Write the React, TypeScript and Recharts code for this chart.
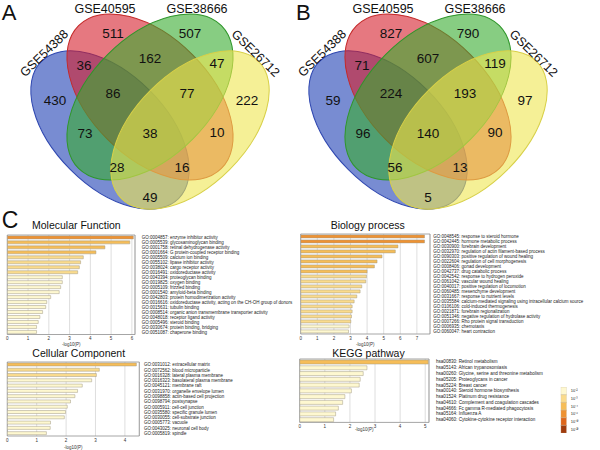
import React from 'react';
import {
  BarChart, Bar, XAxis, YAxis, CartesianGrid, Cell, ReferenceArea,
  ScatterChart, Scatter,
} from 'recharts';

const FONT = '"Liberation Sans", Arial, Helvetica, sans-serif';

// ---------- Venn data ----------
const setNames = ['GSE54388', 'GSE40595', 'GSE38666', 'GSE26712'];
const regionKeys = ['1', '2', '3', '4', '12', '23', '34', '14', '123', '234', '13', '24', '1234', '134', '124'];
const vennACounts = [430, 511, 507, 222, 36, 162, 47, 49, 86, 77, 73, 10, 38, 28, 16];
const vennBCounts = [59, 827, 790, 97, 71, 607, 119, 5, 224, 193, 96, 90, 140, 56, 13];

// ---------- Enrichment data ----------
const mfTerms = [
  'GO:0004857: enzyme inhibitor activity',
  'GO:0005539: glycosaminoglycan binding',
  'GO:0001758: retinal dehydrogenase activity',
  'GO:0001664: G protein-coupled receptor binding',
  'GO:0005509: calcium ion binding',
  'GO:0055102: lipase inhibitor activity',
  'GO:0038024: cargo receptor activity',
  'GO:0016491: oxidoreductase activity',
  'GO:0043394: proteoglycan binding',
  'GO:0019825: oxygen binding',
  'GO:0005109: frizzled binding',
  'GO:0001540: amyloid-beta binding',
  'GO:0042803: protein homodimerization activity',
  'GO:0016616: oxidoreductase activity, acting on the CH-OH group of donors',
  'GO:0015631: tubulin binding',
  'GO:0008514: organic anion transmembrane transporter activity',
  'GO:0048018: receptor ligand activity',
  'GO:0005496: steroid binding',
  'GO:0030674: protein binding, bridging',
  'GO:0051087: chaperone binding',
];
const mfValues = [6.07, 5.9, 4.7, 4.27, 3.66, 3.53, 3.47, 3.39, 2.65, 2.65, 2.57, 2.5, 2.09, 1.9, 1.85, 1.7, 1.57, 1.49, 1.41, 1.41];
const mfTicks = [0, 1, 2, 3, 4, 5, 6];

const bpTerms = [
  'GO:0048545: response to steroid hormone',
  'GO:0042445: hormone metabolic process',
  'GO:0030900: forebrain development',
  'GO:0032970: regulation of actin filament-based process',
  'GO:0090303: positive regulation of wound healing',
  'GO:0022604: regulation of cell morphogenesis',
  'GO:0008406: gonad development',
  'GO:0042737: drug catabolic process',
  'GO:0042542: response to hydrogen peroxide',
  'GO:0061042: vascular wound healing',
  'GO:0040017: positive regulation of locomotion',
  'GO:0060485: mesenchyme development',
  'GO:0031667: response to nutrient levels',
  'GO:0035584: calcium-mediated signaling using intracellular calcium source',
  'GO:0106106: cold-induced thermogenesis',
  'GO:0021871: forebrain regionalization',
  'GO:0051346: negative regulation of hydrolase activity',
  'GO:0007266: Rho protein signal transduction',
  'GO:0006935: chemotaxis',
  'GO:0060047: heart contraction',
];
const bpValues = [7.46, 7.46, 5.86, 5.7, 4.9, 4.6, 4.44, 4.0, 3.96, 3.92, 3.68, 3.58, 3.38, 3.22, 3.1, 3.1, 3.06, 3.02, 2.92, 2.88];
const bpTicks = [0, 1, 2, 3, 4, 5, 6, 7];

const ccTerms = [
  'GO:0031012: extracellular matrix',
  'GO:0072562: blood microparticle',
  'GO:0016328: lateral plasma membrane',
  'GO:0016323: basolateral plasma membrane',
  'GO:0045121: membrane raft',
  'GO:0031970: organelle envelope lumen',
  'GO:0098858: actin-based cell projection',
  'GO:0098794: postsynapse',
  'GO:0005911: cell-cell junction',
  'GO:0035580: specific granule lumen',
  'GO:0030055: cell-substrate junction',
  'GO:0005773: vacuole',
  'GO:0043025: neuronal cell body',
  'GO:0005819: spindle',
];
const ccValues = [4.39, 3.13, 3.03, 2.87, 2.55, 2.39, 2.3, 2.15, 2.04, 1.98, 1.94, 1.47, 1.46, 1.33];
const ccTicks = [0, 1, 2, 3, 4];

const keggTerms = [
  'hsa00830: Retinol metabolism',
  'hsa05143: African trypanosomiasis',
  'hsa00260: Glycine, serine and threonine metabolism',
  'hsa05205: Proteoglycans in cancer',
  'hsa05224: Breast cancer',
  'hsa00140: Steroid hormone biosynthesis',
  'hsa01524: Platinum drug resistance',
  'hsa04610: Complement and coagulation cascades',
  'hsa04666: Fc gamma R-mediated phagocytosis',
  'hsa05164: Influenza A',
  'hsa04060: Cytokine-cytokine receptor interaction',
];
const keggValues = [5.12, 2.68, 2.53, 2.41, 2.37, 2.06, 1.8, 1.71, 1.54, 1.43, 1.35];
const keggTicks = [0, 1, 2, 3, 4, 5];

const legendLabels = ['10⁻²', '10⁻³', '10⁻⁴', '10⁻⁶', '10⁻¹⁰', '10⁻²⁰'];
const legendColors = ['#fef8d0', '#fadb8d', '#f6bd58', '#ee9233', '#de661c', '#a03c0e'];

// ---------- Layout (geometry / style) ----------
const VC = 150;
const ellipseLayout = [
  { dx: -40, y: 130, rx: 97, ry: 56, rot: 45, fill: '#1e3fb4', stroke: '#2f47b0' },
  { dx: 0, y: 97, rx: 101, ry: 60, rot: 45, fill: '#d51e2b', stroke: '#c42a2a' },
  { dx: 0, y: 97, rx: 101, ry: 60, rot: -45, fill: '#37ac2f', stroke: '#2f962a' },
  { dx: 40, y: 130, rx: 97, ry: 56, rot: -45, fill: '#eee650', stroke: '#d8d048' },
];
const regionAnchors: Record<string, [number, number]> = {
  '1': [-95, 100], '2': [-37, 33], '3': [40, 33], '4': [97, 100],
  '12': [-66, 65], '23': [0, 58], '34': [67, 63], '14': [0, 197],
  '123': [-37, 93], '234': [37, 93], '13': [-65, 133], '24': [67, 132],
  '1234': [0, 133], '134': [-33, 167], '124': [32, 167],
};
const nameAnchors: [number, number, number][] = [
  [-106, 53, -44], [-45, 8.5, 0], [47, 8.5, 0], [106, 53, 44],
];

function binColor(v: number) {
  if (v >= 6) return legendColors[3];
  if (v >= 4) return legendColors[2];
  if (v >= 3) return legendColors[1];
  return legendColors[0];
}

const EllipseShape = (p: any) => {
  const d = p.payload;
  return (
    <ellipse cx={p.cx} cy={p.cy} rx={d.rx} ry={d.ry}
      transform={`rotate(${d.rot} ${p.cx} ${p.cy})`}
      fill={d.fill} fillOpacity={0.6} stroke={d.stroke} strokeWidth={1} />
  );
};
const CountShape = (p: any) => (
  <text x={p.cx} y={p.cy} dy="0.36em" textAnchor="middle" fontSize={13.5}
    fontFamily={FONT} fill="#111">{p.payload.label}</text>
);
const NameShape = (p: any) => (
  <text x={p.cx} y={p.cy} dy="0.36em" textAnchor="middle" fontSize={12.5}
    fontFamily={FONT} fill="#111"
    transform={`rotate(${p.payload.rot} ${p.cx} ${p.cy})`}>{p.payload.label}</text>
);

function Venn({ counts, left }: { counts: number[]; left: number }) {
  const ellipses = ellipseLayout.map((e) => ({ ...e, x: VC + e.dx }));
  const nums = regionKeys.map((k, i) => ({
    x: VC + regionAnchors[k][0], y: regionAnchors[k][1], label: String(counts[i]),
  }));
  const names = setNames.map((n, i) => ({
    x: VC + nameAnchors[i][0], y: nameAnchors[i][1], rot: nameAnchors[i][2], label: n,
  }));
  return (
    <div style={{ position: 'absolute', left, top: 0 }}>
      <ScatterChart width={300} height={215} margin={{ top: 0, right: 0, bottom: 0, left: 0 }}>
        <XAxis type="number" dataKey="x" domain={[0, 300]} allowDataOverflow hide />
        <YAxis type="number" dataKey="y" domain={[0, 215]} allowDataOverflow reversed hide />
        <Scatter data={ellipses} shape={EllipseShape} isAnimationActive={false} />
        <Scatter data={nums} shape={CountShape} isAnimationActive={false} />
        <Scatter data={names} shape={NameShape} isAnimationActive={false} />
      </ScatterChart>
    </div>
  );
}

const makeTick = (fs: number) => (p: any) => (
  <text x={p.x} y={p.y} dy="0.35em" textAnchor="start" fontSize={fs}
    fontFamily={FONT} fill="#222">{p.payload.value}</text>
);

type GoProps = {
  terms: string[]; values: number[]; ticks: number[]; max: number;
  left: number; top: number; width: number; height: number;
  plotLeft: number; yW: number; gap: number; axisH: number; tickOff: number; labelOff: number; fs: number;
};

function GoChart(p: GoProps) {
  const rows = p.terms.map((t, i) => ({ name: t, v: p.values[i] }));
  return (
    <div style={{ position: 'absolute', left: p.left, top: p.top }}>
      <BarChart layout="vertical" width={p.width} height={p.height} data={rows}
        margin={{ top: 5, right: 0, bottom: 0, left: p.plotLeft }} barCategoryGap="18%">
        <CartesianGrid horizontal={false} stroke="#d6d6d6" strokeWidth={0.8} />
        <XAxis type="number" domain={[0, p.max]} ticks={p.ticks} allowDataOverflow
          height={p.axisH} axisLine={false} tickLine={false} tickSize={1} tickMargin={p.tickOff}
          tick={{ fontSize: 4.5, fill: '#333', fontFamily: FONT }}
          label={{ value: '-log10(P)', position: 'insideBottom', offset: p.labelOff, fontSize: 4.5, fill: '#333', fontFamily: FONT }} />
        <YAxis type="category" dataKey="name" orientation="right" width={p.yW}
          axisLine={false} tickLine={false} tickSize={0} tickMargin={p.gap} interval={0}
          tick={makeTick(p.fs)} />
        <Bar dataKey="v" isAnimationActive={false} stroke="#a39b85" strokeWidth={0.5}>
          {rows.map((r, i) => <Cell key={i} fill={binColor(r.v)} />)}
        </Bar>
        <ReferenceArea x1={0} x2={p.max} fill="none" stroke="#8f8f8f" strokeWidth={0.8} ifOverflow="visible" />
      </BarChart>
    </div>
  );
}

function LegendScale() {
  const rows = legendLabels.map((l) => ({ name: l, v: 1 }));
  return (
    <div style={{ position: 'absolute', left: 555, top: 386.7 }}>
      <BarChart layout="vertical" width={40} height={46} data={rows}
        margin={{ top: 0, right: 0, bottom: 0, left: 5.7 }} barCategoryGap={0}>
        <XAxis type="number" domain={[0, 1]} hide allowDataOverflow />
        <YAxis type="category" dataKey="name" orientation="right" width={28.3}
          axisLine={false} tickLine={false} tickSize={0} tickMargin={4} interval={0}
          tick={makeTick(4)} />
        <Bar dataKey="v" isAnimationActive={false} stroke="#c9bfa6" strokeWidth={0.5}>
          {rows.map((r, i) => <Cell key={i} fill={legendColors[i]} />)}
        </Bar>
      </BarChart>
    </div>
  );
}

const txt = (s: string, left: number, top: number, size: number) => (
  <div style={{ position: 'absolute', left, top, fontSize: size, lineHeight: 1, fontFamily: FONT, color: '#111', whiteSpace: 'nowrap' }}>{s}</div>
);

export default function App() {
  return (
    <div style={{ position: 'absolute', left: 0, top: 0, width: 600, height: 450, background: '#fff', overflow: 'hidden' }}>
      <Venn counts={vennACounts} left={0} />
      <Venn counts={vennBCounts} left={277.7} />
      {txt('A', 1.7, 2.1, 22)}
      {txt('B', 296, 2.1, 22)}
      {txt('C', 1.7, 208.8, 23)}
      {txt('Molecular Function', 32, 220.4, 10.5)}
      {txt('Biology process', 330.7, 220.4, 10.5)}
      {txt('Cellular Component', 32.3, 347.8, 10.5)}
      {txt('KEGG pathway', 332.3, 347.8, 10.5)}
      <GoChart terms={mfTerms} values={mfValues} ticks={mfTicks} max={6.15}
        left={0} top={229.5} width={300} height={120.5} plotLeft={7.3} yW={165} gap={6.7}
        axisH={16} tickOff={1.7} labelOff={4.5} fs={4.5} />
      <GoChart terms={bpTerms} values={bpValues} ticks={bpTicks} max={7.79}
        left={294} top={229} width={306} height={121} plotLeft={6.7} yW={170} gap={3.3}
        axisH={16} tickOff={1.7} labelOff={4.5} fs={4.5} />
      <GoChart terms={ccTerms} values={ccValues} ticks={ccTicks} max={4.49}
        left={0} top={356.5} width={300} height={93.5} plotLeft={7.3} yW={160.7} gap={4.7}
        axisH={14.5} tickOff={1.7} labelOff={2} fs={4.5} />
      <GoChart terms={keggTerms} values={keggValues} ticks={keggTicks} max={5.15}
        left={294} top={354.3} width={260} height={80.4} plotLeft={5.7} yW={125} gap={7}
        axisH={12} tickOff={1.2} labelOff={3.2} fs={4.6} />
      <LegendScale />
    </div>
  );
}
